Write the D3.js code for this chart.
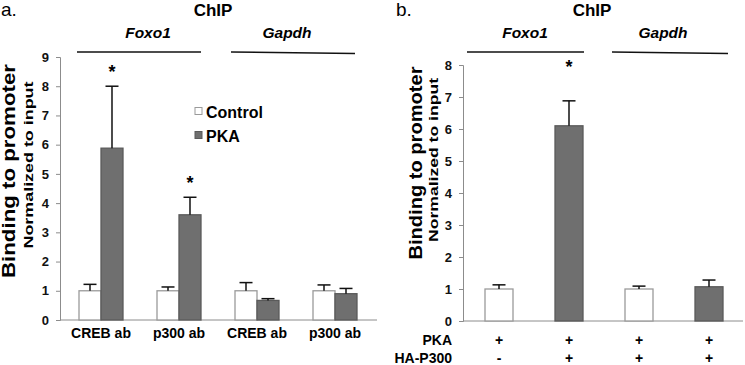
<!DOCTYPE html>
<html>
<head>
<meta charset="utf-8">
<script src="https://cdn.jsdelivr.net/npm/d3@7"></script>
<style>
  body { margin: 0; background: #fff; }
  svg { font-family: "Liberation Sans", Arial, sans-serif; font-weight: bold; }
</style>
</head>
<body>
<svg id="chart" width="745" height="365"></svg>
<script>
// Panel a data
const groupsA = ["CREB ab", "p300 ab", "CREB ab ", "p300 ab "];
const seriesA = ["Control", "PKA"];
const controlA = [1.0, 1.0, 1.0, 1.0];
const controlErrA = [0.22, 0.13, 0.28, 0.2];
const pkaA = [5.88, 3.6, 0.67, 0.9];
const pkaErrA = [2.12, 0.6, 0.06, 0.18];
const starsA = [true, true, false, false];
const ticksA = [0, 1, 2, 3, 4, 5, 6, 7, 8, 9];

// Panel b data
const barsB = ["1", "2", "3", "4"];
const valuesB = [1.0, 6.1, 1.0, 1.07];
const errB = [0.13, 0.78, 0.09, 0.21];
const kindB = ["Control", "PKA", "Control", "PKA"];
const pkaRowB = ["+", "+", "+", "+"];
const p300RowB = ["-", "+", "+", "+"];
const starsB = [false, true, false, false];
const ticksB = [0, 1, 2, 3, 4, 5, 6, 7, 8];

const svg = d3.select("#chart");
const fill = { Control: "#ffffff", PKA: "#6f6f6f" };
const stroke = { Control: "#9a9a9a", PKA: "#5a5a5a" };
const axisColor = "#8c8c8c";

// shared helpers
function yAxis(g, x, scale, ticks) {
  g.append("g")
    .attr("transform", `translate(${x},0)`)
    .call(d3.axisLeft(scale).tickValues(ticks).tickSize(4).tickPadding(7).tickFormat(d3.format("d")))
    .call(a => a.selectAll("path, line").attr("stroke", axisColor))
    .call(a => a.selectAll("text").attr("font-size", 13).attr("font-weight", "bold").attr("fill", "#111"));
}
function errorBars(g, rows, cx, y) {
  const e = g.selectAll(null).data(rows).join("g");
  e.append("line")
    .attr("x1", cx).attr("x2", cx)
    .attr("y1", d => y(d.v)).attr("y2", d => y(d.v + d.e))
    .attr("stroke", "#111").attr("stroke-width", 1.5);
  e.append("line")
    .attr("x1", d => cx(d) - 6.5).attr("x2", d => cx(d) + 6.5)
    .attr("y1", d => y(d.v + d.e)).attr("y2", d => y(d.v + d.e))
    .attr("stroke", "#111").attr("stroke-width", 1.5);
}
function headers(title, titleX, foxX, gapX, foxLine, gapLine, letter, letterX) {
  svg.append("text").attr("x", letterX).attr("y", 16).attr("font-size", 19).attr("font-weight", "normal").text(letter);
  svg.append("text").attr("x", titleX).attr("y", 16).attr("text-anchor", "middle").attr("font-size", 17).text(title);
  svg.append("text").attr("x", foxX).attr("y", 38).attr("text-anchor", "middle").attr("font-size", 15.5).attr("font-style", "italic").text("Foxo1");
  svg.append("text").attr("x", gapX).attr("y", 38).attr("text-anchor", "middle").attr("font-size", 15.5).attr("font-style", "italic").text("Gapdh");
  svg.append("line").attr("x1", foxLine[0]).attr("x2", foxLine[1]).attr("y1", 52).attr("y2", 52).attr("stroke", "#111").attr("stroke-width", 1.5);
  svg.append("line").attr("x1", gapLine[0]).attr("x2", gapLine[1]).attr("y1", 52).attr("y2", 53.5).attr("stroke", "#111").attr("stroke-width", 1.5);
}
function yTitles(bx, by, blen, nx, ny, nlen) {
  svg.append("text").attr("transform", `translate(${bx},${by}) rotate(-90)`).attr("text-anchor", "middle")
    .attr("font-size", 18).attr("textLength", blen).attr("lengthAdjust", "spacingAndGlyphs").text("Binding to promoter");
  svg.append("text").attr("transform", `translate(${nx},${ny}) rotate(-90)`).attr("text-anchor", "middle")
    .attr("font-size", 12.5).attr("textLength", nlen).attr("lengthAdjust", "spacingAndGlyphs").text("Normalized to input");
}

// ---------- Panel a ----------
const yA = d3.scaleLinear().domain([0, 9]).range([320, 57]);
const xA = d3.scaleBand().domain(groupsA).range([62, 374]).paddingInner(0.436).paddingOuter(0.218);
const xInA = d3.scaleBand().domain(seriesA).range([0, xA.bandwidth()]);

const gA = svg.append("g");
yAxis(gA, 60, yA, ticksA);
gA.append("line").attr("x1", 60).attr("x2", 377).attr("y1", 320).attr("y2", 320).attr("stroke", axisColor);

const rowsA = groupsA.map((g, i) => [
  { g, s: "Control", v: controlA[i], e: controlErrA[i], star: false },
  { g, s: "PKA", v: pkaA[i], e: pkaErrA[i], star: starsA[i] }
]).flat();
const cxA = d => xA(d.g) + xInA(d.s) + xInA.bandwidth() / 2;

gA.selectAll("rect.bar").data(rowsA).join("rect")
  .attr("x", d => xA(d.g) + xInA(d.s))
  .attr("y", d => yA(d.v))
  .attr("width", xInA.bandwidth())
  .attr("height", d => yA(0) - yA(d.v))
  .attr("fill", d => fill[d.s])
  .attr("stroke", d => stroke[d.s])
  .attr("stroke-width", 1.3);
errorBars(gA, rowsA, cxA, yA);

gA.selectAll("text.star").data(rowsA.filter(d => d.star)).join("text")
  .attr("x", cxA)
  .attr("y", d => yA(d.v + d.e) - 8)
  .attr("text-anchor", "middle").attr("font-size", 18).text("*");

gA.selectAll("text.xl").data(groupsA).join("text")
  .attr("x", d => xA(d) + xA.bandwidth() / 2)
  .attr("y", 338).attr("text-anchor", "middle").attr("font-size", 14)
  .text(d => d.trim());

// legend
seriesA.forEach((s, i) => {
  gA.append("rect").attr("x", 195).attr("y", 107.5 + i * 24).attr("width", 7).attr("height", 7)
    .attr("fill", fill[s]).attr("stroke", stroke[s]);
  gA.append("text").attr("x", 206).attr("y", 118 + i * 24).attr("font-size", 16).text(s);
});

headers("ChIP", 213, 148, 287, [77, 201], [231, 355], "a.", 1);
yTitles(15, 171, 214, 33, 165, 167);

// ---------- Panel b ----------
const yB = d3.scaleLinear().domain([0, 8]).range([321, 65]);
const xB = d3.scaleBand().domain(barsB).range([464, 744]).paddingInner(0.6).paddingOuter(0.3);

const gB = svg.append("g");
yAxis(gB, 463, yB, ticksB);
gB.append("line").attr("x1", 463).attr("x2", 743).attr("y1", 321).attr("y2", 321).attr("stroke", axisColor);

const rowsB = barsB.map((b, i) => ({ b, v: valuesB[i], e: errB[i], s: kindB[i], star: starsB[i] }));
const cxB = d => xB(d.b) + xB.bandwidth() / 2;
gB.selectAll("rect.bar").data(rowsB).join("rect")
  .attr("x", d => xB(d.b)).attr("y", d => yB(d.v))
  .attr("width", xB.bandwidth()).attr("height", d => yB(0) - yB(d.v))
  .attr("fill", d => fill[d.s]).attr("stroke", d => stroke[d.s]).attr("stroke-width", 1.3);
errorBars(gB, rowsB, cxB, yB);

gB.selectAll("text.star").data(rowsB.filter(d => d.star)).join("text")
  .attr("x", cxB).attr("y", 73)
  .attr("text-anchor", "middle").attr("font-size", 18).text("*");

gB.selectAll("text.pka").data(rowsB).join("text")
  .attr("x", cxB).attr("y", 345)
  .attr("text-anchor", "middle").attr("font-size", 14).text((d, i) => pkaRowB[i]);
gB.selectAll("text.p300").data(rowsB).join("text")
  .attr("x", cxB).attr("y", 363)
  .attr("text-anchor", "middle").attr("font-size", 14).text((d, i) => p300RowB[i]);
svg.append("text").attr("x", 452).attr("y", 345).attr("text-anchor", "end").attr("font-size", 14).text("PKA");
svg.append("text").attr("x", 452).attr("y", 363).attr("text-anchor", "end").attr("font-size", 14).text("HA-P300");

headers("ChIP", 592, 525, 663, [467, 584], [612, 728], "b.", 396);
yTitles(422, 163, 193, 438, 160, 164);
</script>
</body>
</html>
